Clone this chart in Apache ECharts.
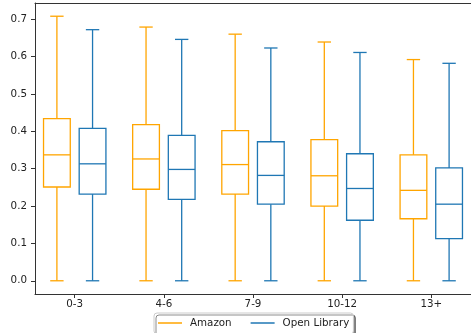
<!DOCTYPE html>
<html>
<head>
<meta charset="utf-8">
<script src="https://cdn.jsdelivr.net/npm/echarts@6/dist/echarts.min.js"></script>
<style>
  html, body { margin: 0; padding: 0; background: #fff; }
  #chart { width: 471px; height: 333px; }
</style>
</head>
<body>
<div id="chart"></div>
<script>
// Age groups on the x axis
const categories = ['0-3', '4-6', '7-9', '10-12', '13+'];

// Five-number summaries per age group: [min, Q1, median, Q3, max]
const amazon = [
  [0, 0.251, 0.337, 0.434, 0.708],
  [0, 0.245, 0.326, 0.418, 0.679],
  [0, 0.232, 0.311, 0.402, 0.660],
  [0, 0.200, 0.281, 0.378, 0.639],
  [0, 0.166, 0.242, 0.337, 0.592]
];
const openLibrary = [
  [0, 0.232, 0.313, 0.408, 0.672],
  [0, 0.218, 0.298, 0.389, 0.646],
  [0, 0.205, 0.282, 0.372, 0.623],
  [0, 0.162, 0.247, 0.340, 0.611],
  [0, 0.113, 0.205, 0.302, 0.582]
];

const yTicks = [0, 0.1, 0.2, 0.3, 0.4, 0.5, 0.6, 0.7];

const AMAZON_COLOR = '#ffa500';
const OPENLIB_COLOR = '#1f77b4';
const FONT = 'DejaVu Sans';

// Box geometry in category units
const BOX_SHIFT = 0.2;
const BOX_HALF = 0.15;
const CAP_HALF = 0.075;

function toRows(stats) {
  return stats.map((s, i) => [i].concat(s));
}

function boxRenderer(color, shift) {
  return function (params, api) {
    const x = api.value(0) + shift;
    const mn = api.value(1), q1 = api.value(2), md = api.value(3),
          q3 = api.value(4), mx = api.value(5);
    const style = { stroke: color, lineWidth: 1.3, fill: null };
    const line = (a, b) => ({
      type: 'line',
      shape: { x1: a[0], y1: a[1], x2: b[0], y2: b[1] },
      style: style
    });
    const tl = api.coord([x - BOX_HALF, q3]);
    const br = api.coord([x + BOX_HALF, q1]);
    return {
      type: 'group',
      children: [
        {
          type: 'rect',
          shape: { x: tl[0], y: tl[1], width: br[0] - tl[0], height: br[1] - tl[1] },
          style: style
        },
        line(api.coord([x - BOX_HALF, md]), api.coord([x + BOX_HALF, md])),
        line(api.coord([x, q3]), api.coord([x, mx])),
        line(api.coord([x, q1]), api.coord([x, mn])),
        line(api.coord([x - CAP_HALF, mx]), api.coord([x + CAP_HALF, mx])),
        line(api.coord([x - CAP_HALF, mn]), api.coord([x + CAP_HALF, mn]))
      ]
    };
  };
}

const axisColor = '#333';
const labelStyle = { fontFamily: FONT, fontSize: 10.3, color: '#222' };
const catIdx = categories.map((c, i) => i);

const chart = echarts.init(document.getElementById('chart'), null, { renderer: 'canvas' });
chart.setOption({
  animation: false,
  backgroundColor: '#fff',
  grid: { left: 35, top: 3, right: -3, bottom: 39, containLabel: false },
  xAxis: [
    {
      type: 'value',
      min: -0.4457,
      max: 4.4457,
      position: 'bottom',
      splitLine: { show: false },
      axisLine: { show: true, onZero: false, lineStyle: { color: axisColor, width: 1 } },
      axisTick: { show: true, customValues: catIdx, length: 4, lineStyle: { color: axisColor } },
      axisLabel: Object.assign({
        customValues: catIdx,
        margin: 5,
        formatter: v => categories[Math.round(v)]
      }, labelStyle)
    },
    {
      type: 'value',
      min: -0.4457,
      max: 4.4457,
      position: 'top',
      splitLine: { show: false },
      axisLine: { show: true, onZero: false, lineStyle: { color: axisColor, width: 1 } },
      axisTick: { show: false },
      axisLabel: { show: false }
    }
  ],
  yAxis: {
    type: 'value',
    min: -0.0354,
    max: 0.7434,
    position: 'left',
    splitLine: { show: false },
    axisLine: { show: true, onZero: false, lineStyle: { color: axisColor, width: 1 } },
    axisTick: { show: true, customValues: yTicks, length: 4, lineStyle: { color: axisColor } },
    axisLabel: Object.assign({
      customValues: yTicks,
      margin: 8,
      formatter: v => v.toFixed(1)
    }, labelStyle)
  },
  legend: {
    left: 154,
    top: 313,
    orient: 'horizontal',
    data: [
      { name: 'Amazon', icon: 'rect', itemStyle: { color: AMAZON_COLOR } },
      { name: 'Open Library', icon: 'rect', itemStyle: { color: OPENLIB_COLOR } }
    ],
    itemWidth: 24,
    itemHeight: 1.5,
    itemGap: 19,
    padding: [5, 4, 6, 4],
    backgroundColor: '#fff',
    borderColor: '#cccccc',
    borderWidth: 1,
    borderRadius: 3,
    shadowColor: 'rgba(0,0,0,0.45)',
    shadowOffsetX: 2,
    shadowOffsetY: 2,
    shadowBlur: 0,
    textStyle: Object.assign({ padding: [0, 0, 0, 3] }, labelStyle)
  },
  series: [
    {
      name: 'Amazon',
      type: 'custom',
      xAxisIndex: 0,
      itemStyle: { color: AMAZON_COLOR },
      encode: { x: 0, y: [1, 2, 3, 4, 5] },
      data: toRows(amazon),
      renderItem: boxRenderer(AMAZON_COLOR, -BOX_SHIFT)
    },
    {
      name: 'Open Library',
      type: 'custom',
      xAxisIndex: 0,
      itemStyle: { color: OPENLIB_COLOR },
      encode: { x: 0, y: [1, 2, 3, 4, 5] },
      data: toRows(openLibrary),
      renderItem: boxRenderer(OPENLIB_COLOR, BOX_SHIFT)
    }
  ]
});
</script>
</body>
</html>
